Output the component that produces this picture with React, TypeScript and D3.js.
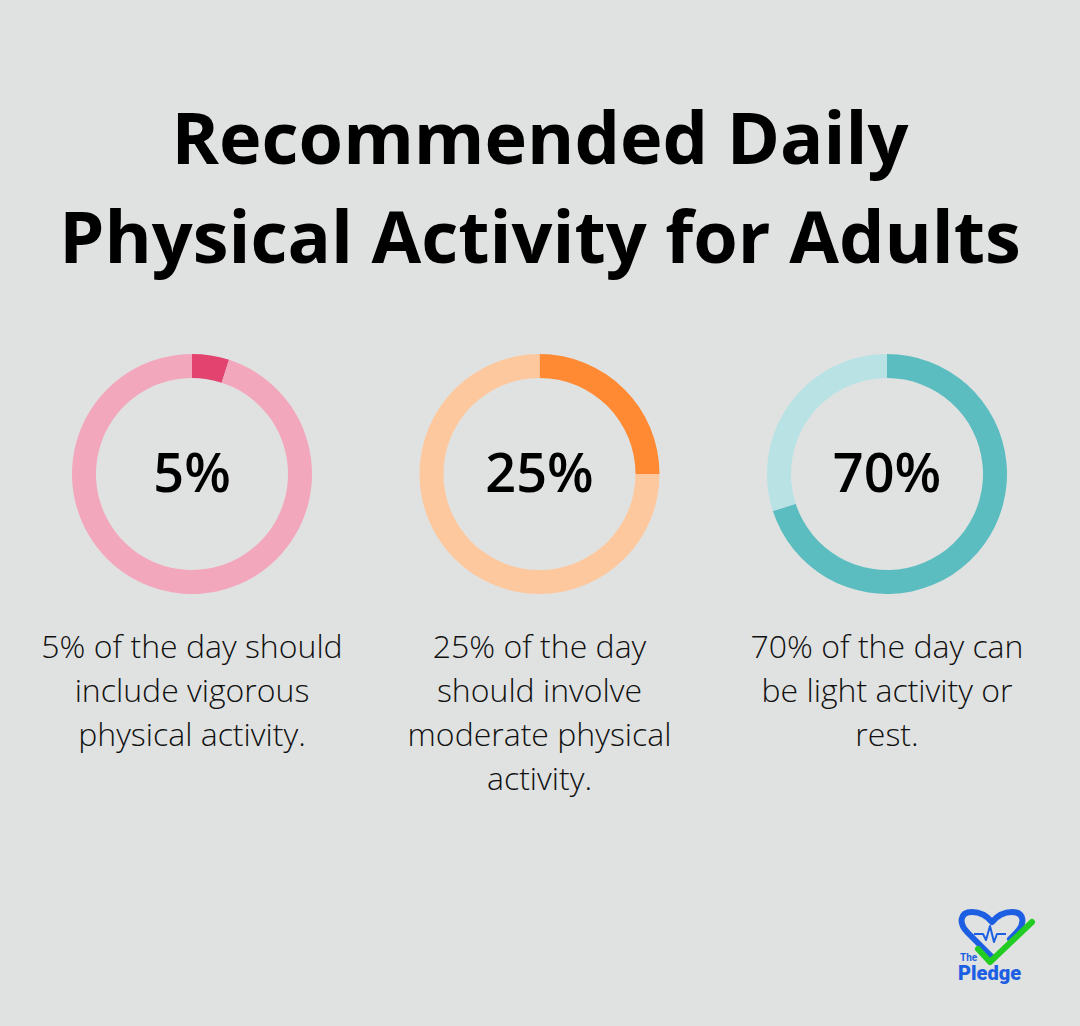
import React from "react";
import * as d3 from "d3";

const W = 1080;
const H = 1026;

const titleLines = ["Recommended Daily", "Physical Activity for Adults"];
const categories = ["Vigorous", "Moderate", "Light / rest"];
const values = [5, 25, 70];
const mainColors = ["#E3436F", "#FF8A33", "#5BBDC0"];
const restColors = ["#F3A7BD", "#FEC89F", "#B9E2E5"];
const descriptions = [
  ["5% of the day should", "include vigorous", "physical activity."],
  ["25% of the day", "should involve", "moderate physical", "activity."],
  ["70% of the day can", "be light activity or", "rest."],
];

const FONT = "'Open Sans', 'Noto Sans', sans-serif";

export default function App() {
  const x = d3.scalePoint<string>().domain(categories).range([192, 887]);
  const cy = 474;
  const arc = d3.arc<d3.PieArcDatum<number>>().innerRadius(96).outerRadius(120);
  const pie = d3.pie<number>().sort(null).value((d) => d);

  return (
    <svg
      width={W}
      height={H}
      style={{ position: "absolute", left: 0, top: 0, display: "block" }}
    >
      <rect width={W} height={H} fill="#E0E2E1" />
      {titleLines.map((t, i) => (
        <text
          key={i}
          x={W / 2}
          y={164 + i * 99}
          textAnchor="middle"
          fontFamily={FONT}
          fontWeight={700}
          fontSize={72}
          fill="#000"
        >
          {t}
        </text>
      ))}
      {categories.map((c, i) => {
        const cx = x(c)!;
        const arcs = pie([values[i], 100 - values[i]]);
        return (
          <g key={c}>
            <g transform={`translate(${cx},${cy})`}>
              {arcs.map((a, j) => (
                <path key={j} d={arc(a)!} fill={j === 0 ? mainColors[i] : restColors[i]} />
              ))}
              <text
                y={18}
                textAnchor="middle"
                fontFamily={FONT}
                fontWeight={600}
                fontSize={54}
                fill="#000"
              >
                {values[i]}%
              </text>
            </g>
            {descriptions[i].map((line, k) => (
              <text
                key={k}
                x={cx}
                y={658 + k * 44}
                textAnchor="middle"
                fontFamily={FONT}
                fontWeight={300}
                fontSize={32}
                fill="#111"
              >
                {line}
              </text>
            ))}
          </g>
        );
      })}
      {/* logo */}
      <g>
        <path
          d="M992,957 L968,933 C958,923 960,912 972,912 C980,912 987,916 992,922 C997,916 1004,912 1012,912 C1024,912 1026,923 1016,933 L1010,939"
          fill="none"
          stroke="#1D5FE3"
          strokeWidth={6}
          strokeLinejoin="round"
          strokeLinecap="round"
        />
        <path
          d="M974,934 L983,934 L986,940 L990,926 L994,942 L997,934 L1006,934"
          fill="none"
          stroke="#1D5FE3"
          strokeWidth={2}
          strokeLinejoin="round"
        />
        <path
          d="M978,949 L990,962 L1032,922"
          fill="none"
          stroke="#22CC22"
          strokeWidth={6}
          strokeLinecap="round"
          strokeLinejoin="round"
        />
        <text x={960} y={961} fontFamily="Roboto, sans-serif" fontWeight={700} fontSize={10} fill="#1D5FE3">
          The
        </text>
        <text x={958} y={980} fontFamily="Roboto, sans-serif" fontWeight={900} fontSize={20} fill="#1D5FE3">
          Pledge
        </text>
      </g>
    </svg>
  );
}
